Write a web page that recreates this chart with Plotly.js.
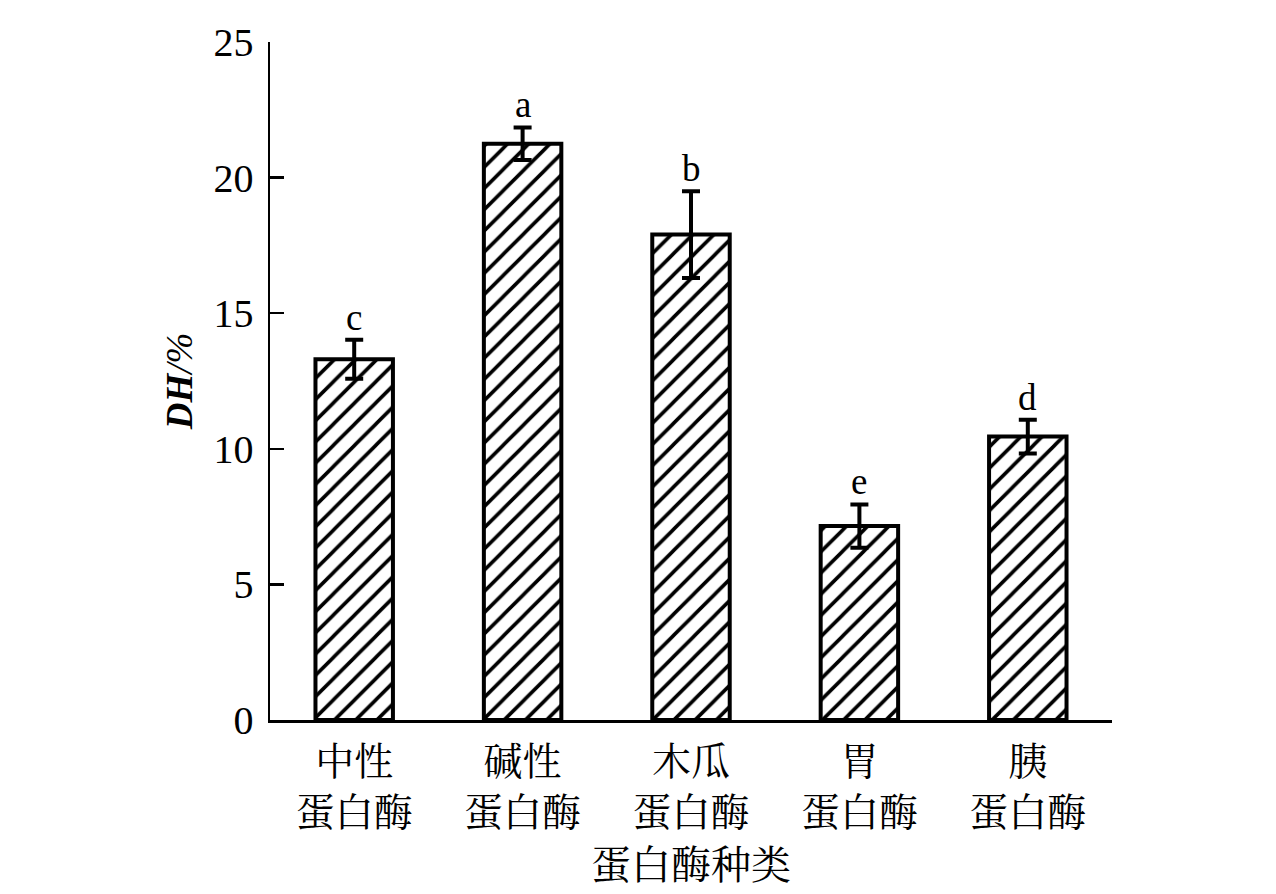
<!DOCTYPE html>
<html>
<head>
<meta charset="utf-8">
<script src="https://cdn.plot.ly/plotly-3.0.1.min.js"></script>
<style>
  html, body { margin: 0; padding: 0; background: #fff; }
  #chart { width: 1276px; height: 894px; }
</style>
</head>
<body>
<div id="chart"></div>
<script>
// enzyme types and degree of hydrolysis (DH, %)
let enzymes = ["中性<br>蛋白酶", "碱性<br>蛋白酶", "木瓜<br>蛋白酶", "胃<br>蛋白酶", "胰<br>蛋白酶"];
let dhValues = [13.3, 21.25, 17.9, 7.15, 10.45];
let dhErrors = [0.72, 0.6, 1.6, 0.8, 0.62];
let sigLetters = ["c", "a", "b", "e", "d"];
let yTicks = [0, 5, 10, 15, 20, 25];

let fontFamily = '"Liberation Serif", "Noto Serif CJK SC", "Noto Sans CJK SC", serif';

let trace = {
  type: 'bar',
  x: enzymes,
  y: dhValues,
  width: 0.46,
  marker: {
    color: 'white',
    line: {color: 'black', width: 4},
    pattern: {shape: '/', size: 15, solidity: 0.24, fgcolor: 'black', bgcolor: 'white'}
  },
  error_y: {
    type: 'data',
    array: dhErrors,
    visible: true,
    color: 'black',
    thickness: 4,
    width: 9
  },
  hoverinfo: 'none'
};

let letterNotes = sigLetters.map((txt, i) => ({
  x: enzymes[i],
  y: dhValues[i] + dhErrors[i],
  text: txt,
  showarrow: false,
  yanchor: 'bottom',
  yshift: 0,
  font: {family: fontFamily, size: 37, color: 'black'}
}));

let layout = {
  width: 1276,
  height: 894,
  margin: {l: 270, r: 164, t: 42, b: 174},
  paper_bgcolor: 'white',
  plot_bgcolor: 'white',
  showlegend: false,
  font: {family: fontFamily, size: 39, color: 'black'},
  bargap: 0.54,
  xaxis: {
    showline: true,
    linecolor: 'black',
    linewidth: 2.5,
    ticks: '',
    showgrid: false,
    zeroline: false,
    ticklabelstandoff: 6,
    tickfont: {family: fontFamily, size: 39, color: 'black'},
    title: {text: '蛋白酶种类', font: {family: fontFamily, size: 40, color: 'black'}, standoff: 18}
  },
  yaxis: {
    range: [0, 25],
    tickvals: yTicks,
    showline: true,
    linecolor: 'black',
    linewidth: 2.5,
    ticks: 'inside',
    ticklen: 14,
    tickwidth: 2.5,
    tickcolor: 'black',
    ticklabelstandoff: 6,
    showgrid: false,
    zeroline: false,
    tickfont: {family: fontFamily, size: 40, color: 'black'},
    title: {text: '<b>DH</b>/%', font: {family: fontFamily, size: 37, color: 'black', style: 'italic'}, standoff: 10}
  },
  annotations: letterNotes
};

Plotly.newPlot('chart', [trace], layout, {staticPlot: true});
</script>
</body>
</html>
